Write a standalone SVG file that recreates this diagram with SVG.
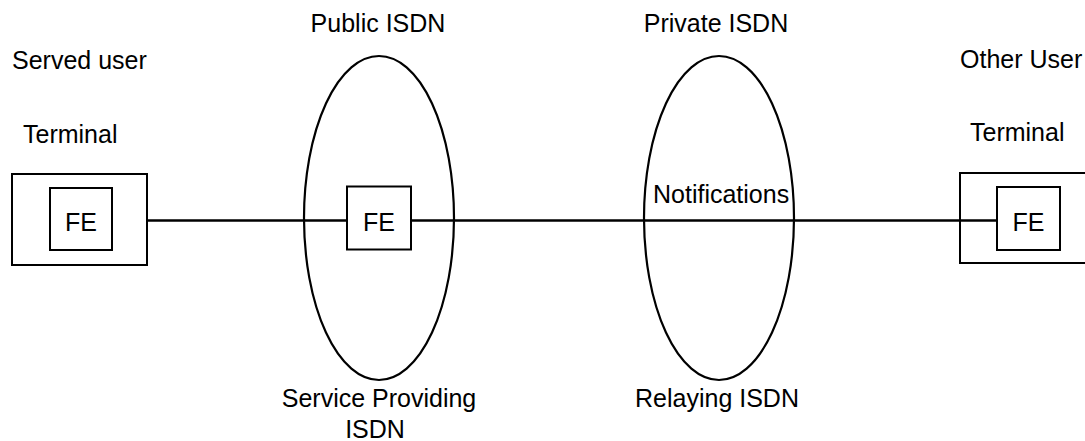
<svg xmlns="http://www.w3.org/2000/svg" width="1085" height="441" viewBox="0 0 1085 441">
<style>
text{font-family:"Liberation Sans",Arial,sans-serif;font-size:25px;fill:#000}
.box{fill:#fff;stroke:#000;stroke-width:2}
.ell{fill:none;stroke:#000;stroke-width:2.2}
.ln{stroke:#000;stroke-width:2.5;fill:none}
</style>
<rect width="1085" height="441" fill="#fff"/>
<g id="public-isdn">
<ellipse class="ell" cx="379" cy="218" rx="75" ry="162"/>
<text x="378" y="32" text-anchor="middle">Public ISDN</text>
<text x="379" y="407" text-anchor="middle">Service Providing</text>
<text x="375" y="438" text-anchor="middle">ISDN</text>
</g>
<g id="private-isdn">
<ellipse class="ell" cx="719" cy="218" rx="75" ry="162"/>
<text x="716" y="32" text-anchor="middle">Private ISDN</text>
<text x="717" y="407" text-anchor="middle">Relaying ISDN</text>
</g>
<g id="connectors">
<line class="ln" x1="147" y1="220.5" x2="347" y2="220.5"/>
<line class="ln" x1="411" y1="220.5" x2="997" y2="220.5"/>
<text x="653" y="203">Notifications</text>
</g>
<g id="served-user">
<text x="12" y="69">Served user</text>
<text x="23" y="143">Terminal</text>
<rect class="box" x="12" y="174" width="135" height="91" fill="none" style="fill:none"/>
<rect class="box" x="50" y="188" width="62" height="62"/>
<text x="81" y="231" text-anchor="middle">FE</text>
</g>
<g id="public-fe">
<rect class="box" x="347" y="186.5" width="64" height="63"/>
<text x="379" y="231" text-anchor="middle">FE</text>
</g>
<g id="other-user">
<text x="960" y="68">Other User</text>
<text x="970" y="141">Terminal</text>
<rect class="box" x="960" y="173" width="135" height="90" style="fill:none"/>
<rect class="box" x="997" y="187" width="63" height="63"/>
<text x="1028.5" y="231" text-anchor="middle">FE</text>
</g>
</svg>
